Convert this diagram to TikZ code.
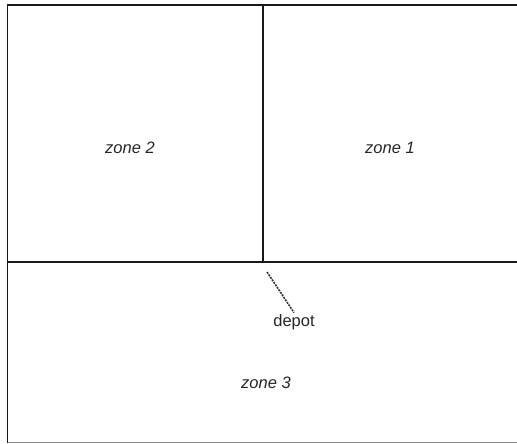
\documentclass[tikz,border=0pt]{standalone}
\usepackage{fontspec}
\setmainfont{Liberation Sans}
\begin{document}
\begin{tikzpicture}[x=1pt,y=-1pt,
  wall/.style={line width=1.8pt,draw=black!90},
  zonelabel/.style={font=\fontsize{16.5}{19}\selectfont\itshape,text=black!85},
  plainlabel/.style={font=\fontsize{16.5}{19}\selectfont,text=black!85,inner sep=1.5pt}]
\useasboundingbox[fill=white] (0,0) rectangle (517,444);
% outer frame, open on the right
\draw[wall] (517,5) -- (7.5,5) -- (7.5,442.5);
\draw[line width=1.8pt,draw=black!45] (7.5,442.5) -- (517,442.5);
% partitions
\draw[wall] (7.5,262) -- (517,262);
\draw[wall] (263,5) -- (263,262);
% zone names
\node[zonelabel] (z2) at (130,148) {zone 2};
\node[zonelabel] (z1) at (390,148) {zone 1};
\node[zonelabel] (z3) at (266,383) {zone 3};
% depot with its access path
\node[plainlabel] (depot) at (294,322) {depot};
\coordinate (gate) at (267,272);
\draw[line width=1.6pt,draw=black!80,dash pattern=on 2pt off 1pt] (gate) -- (depot.north);
\end{tikzpicture}
\end{document}
